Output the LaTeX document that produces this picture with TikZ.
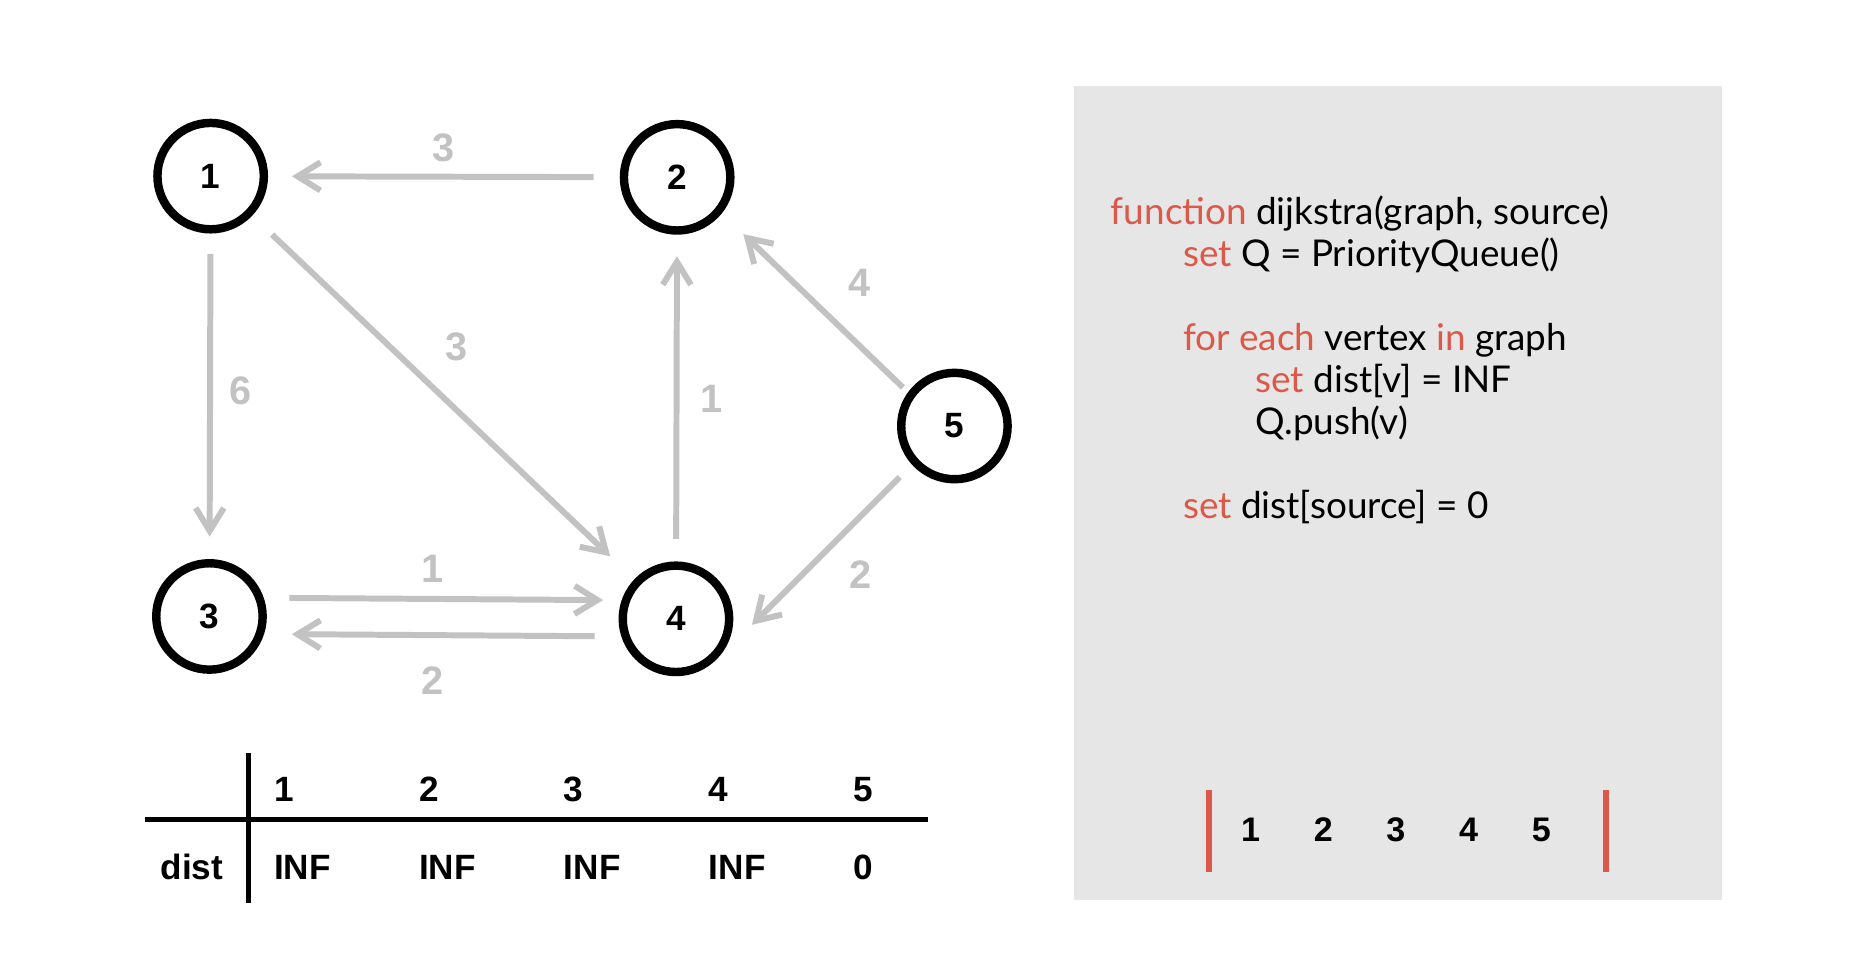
\documentclass[tikz,border=0pt]{standalone}
\usepackage{fontspec}
\setmainfont{Liberation Sans}
\newfontfamily\codefont{Lato}
\usetikzlibrary{arrows.meta}

\definecolor{edgegray}{RGB}{194,194,194}
\definecolor{codered}{RGB}{220,88,72}
\definecolor{boxgray}{RGB}{230,230,230}

\newcommand{\kw}[1]{\textcolor{codered}{#1}}

\tikzset{
  vertex/.style={draw=black,circle,line width=2.4pt,minimum size=1.064cm,inner sep=0pt,font=\fontsize{10}{12}\selectfont\bfseries},
  edge/.style={draw=edgegray,line width=1.7pt,-{Straight Barb[length=6.5pt,width=8pt]},shorten >=6.5pt,shorten <=6.5pt},
  weight/.style={text=edgegray,inner sep=0pt,font=\fontsize{11.3}{13}\selectfont\bfseries},
  code/.style={anchor=base west,inner sep=0pt,font=\codefont\fontsize{10.5}{12}\selectfont},
  cell/.style={anchor=base west,inner sep=0pt,font=\fontsize{10}{12}\selectfont\bfseries},
  queue/.style={anchor=base,inner sep=0pt,font=\fontsize{9.7}{12}\selectfont\bfseries}
}

\begin{document}
\begin{tikzpicture}[x=0.011902cm,y=-0.011902cm]

\useasboundingbox (0,0) rectangle (1568,823.4);
\fill[boxgray] (902.4,72.3) rectangle (1446.8,756.2);

\node[vertex] (v1) at (177,148) {1};
\node[vertex] (v2) at (569,149) {2};
\node[vertex] (v3) at (176,518) {3};
\node[vertex] (v4) at (568,520) {4};
\node[vertex] (v5) at (802,358) {5};

\draw[edge,shorten <=7.4pt,shorten >=6.8pt] (v2) -- (v1) node[weight,pos=0.5,shift={(0,8.2pt)}] {3};
\draw[edge,shorten <=5.8pt,shorten >=6.4pt] (v1) -- (v3) node[weight,pos=0.5,shift={(8.7pt,1.5pt)}] {6};
\draw[edge,shorten <=7.8pt,shorten >=9.5pt] (v1) -- (v4) node[weight,pos=0.5,shift={(3.9pt,14.5pt)}] {3};
\draw[edge,shorten <=6.4pt,shorten >=6.1pt] (v4) -- (v2) node[weight,pos=0.5,shift={(9.9pt,-0.3pt)}] {1};
\draw[edge,shorten <=2pt,shorten >=8.5pt] (v5.144) -- (v2.-39) node[weight,pos=0.5,shift={(12.8pt,5.8pt)}] {4};
\draw[edge,shorten <=0pt,shorten >=0pt] ([shift={(223:21.3pt)}]v5.center) -- ([shift={(-4.5:21.7pt)}]v4.center) node[weight,pos=0.5,shift={(9.8pt,-6.8pt)}] {2};
\draw[edge,shorten <=6.4pt,shorten >=4.4pt] ([yshift=5.3pt]v3.east) -- ([yshift=5.3pt]v4.west) node[weight,pos=0.5,shift={(-3pt,8.5pt)}] {1};
\draw[edge,shorten <=6.8pt,shorten >=7.1pt] ([yshift=-5pt]v4.west) -- ([yshift=-5pt]v3.east) node[weight,pos=0.5,shift={(-3pt,-12.8pt)}] {2};

% distance table
\draw[line width=1.5pt] (208.6,633) -- (208.6,758.8);
\draw[line width=1.5pt] (122,688.4) -- (780,688.4);
\node[cell,anchor=base east] (dist) at (188,739.4) {dist};
\foreach \i/\v [count=\k from 0] in {1/INF,2/INF,3/INF,4/INF,5/0} {
  \node[cell] (h\i) at (229.7+121.8*\k,673.6) {\i};
  \node[cell] (d\i) at (229.7+121.8*\k,739.4) {\v};
}

% pseudocode
\node[code] (c1) at (932.9,188.4) {\kw{function} dijkstra(graph, source)};
\node[code] (c2) at (993.6,223.8) {\kw{set} Q = PriorityQueue()};
\node[code] (c3) at (993.6,294.3) {\kw{for each} vertex \kw{in} graph};
\node[code] (c4) at (1054.5,329.6) {\kw{set} dist[v] = INF};
\node[code] (c5) at (1054.5,365) {Q.push(v)};
\node[code] (c6) at (993.6,436) {\kw{set} dist[source] = 0};

% priority queue
\draw[codered,line width=1.7pt] (1015.8,663.8) -- (1015.8,732.4);
\draw[codered,line width=1.7pt] (1349.9,663.8) -- (1349.9,732.4);
\foreach \i [count=\k from 0] in {1,...,5}
  \node[queue] (q\i) at (1050.8+61.1*\k,707.5) {\i};

\end{tikzpicture}
\end{document}
